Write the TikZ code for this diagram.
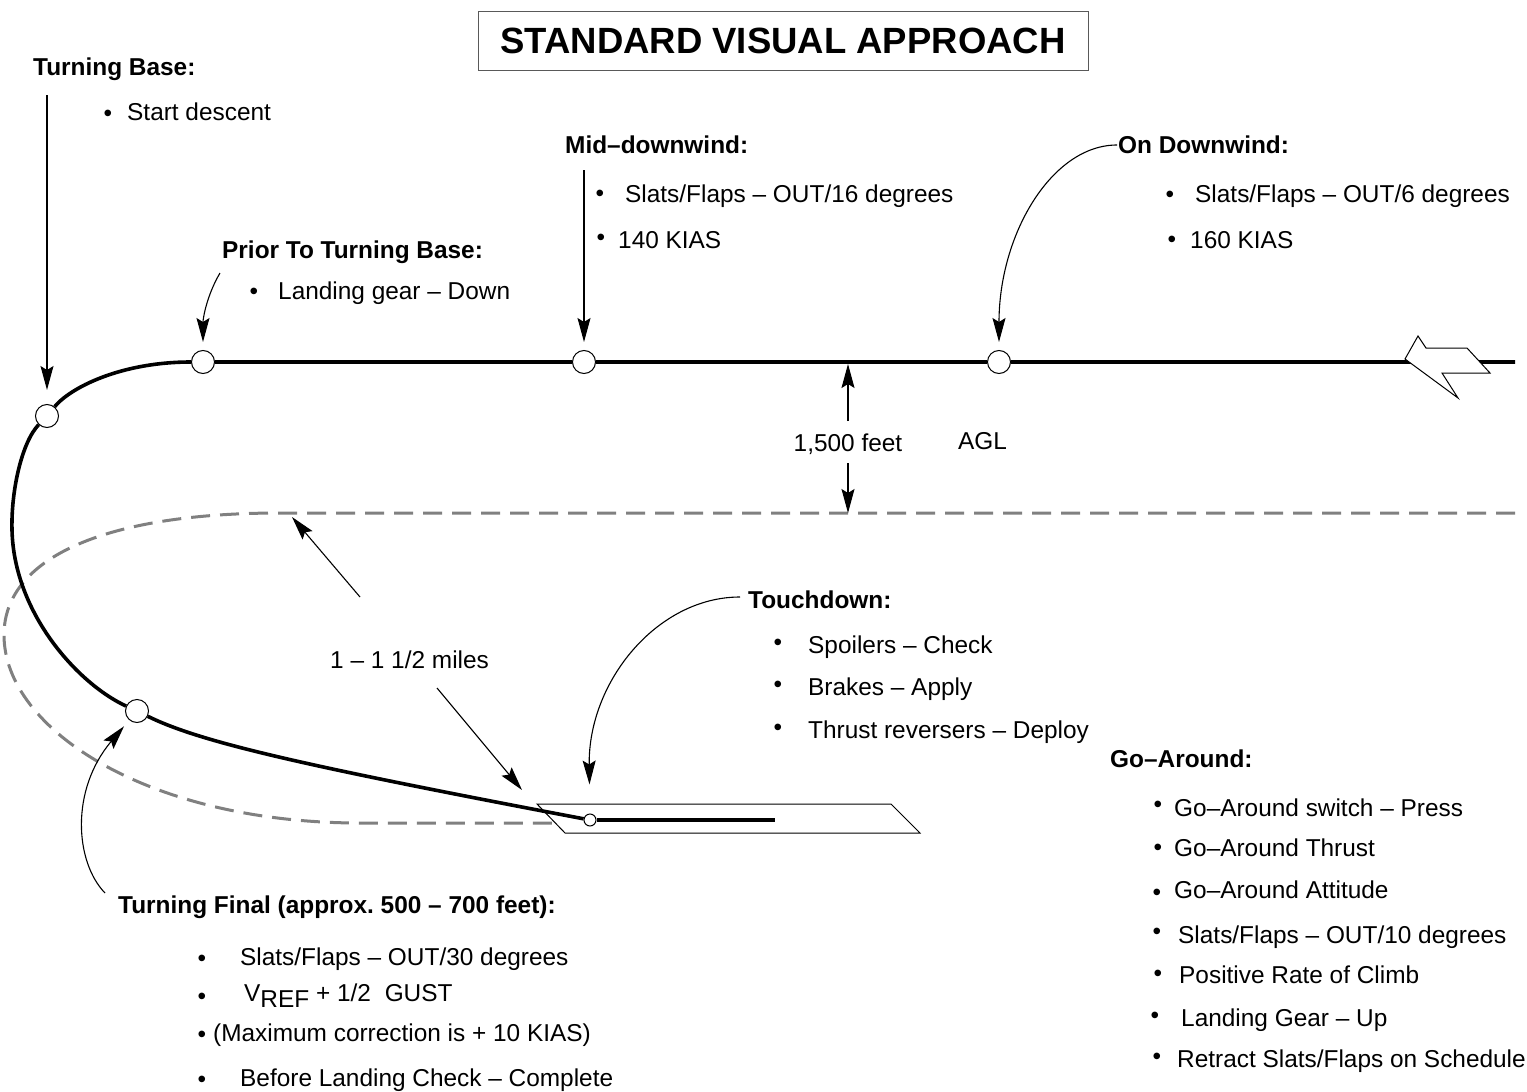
\documentclass[tikz,border=0pt]{standalone}
\usepackage{fontspec}
\setmainfont{Liberation Sans}
\usetikzlibrary{arrows.meta}
\newcommand\bodyfs{\fontsize{24.4}{29}\selectfont}
\frenchspacing
\begin{document}
\begin{tikzpicture}[x=1pt,y=-1pt,
  txt/.style={font=\bodyfs, inner sep=0pt, anchor=base west},
  lbl/.style={font=\bodyfs\bfseries, inner sep=0pt, anchor=base west},
  bul/.style={font=\bodyfs, inner sep=0pt, anchor=base},
  arr/.style={line width=1.1pt, -{Stealth[length=24pt,width=13pt,inset=4pt]}},
  route/.style={line width=3.6pt},
  wp/.style={circle, draw, fill=white, line width=1pt, minimum size=23pt, inner sep=0pt},
  dsh/.style={draw=gray, line width=3pt, dash pattern=on 19pt off 10pt},
  thin/.style={line width=1pt}]
\useasboundingbox (0,0) rectangle (1527,1092);
\fill[white] (0,0) rectangle (1527,1092);

% title
\node[draw=gray!70!black, line width=1pt, minimum width=610pt, minimum height=59pt, inner sep=0pt,
      font=\fontsize{36.5}{40}\selectfont\bfseries] (title) at (783,40.5) {STANDARD VISUAL APPROACH};

% dashed go-around / reference path
\draw[dsh] (1515,513) -- (280,513) .. controls (100,513) and (4,560) .. (4,635)
      .. controls (4,730) and (150,823) .. (360,823) -- (557,823);

% runway
\draw[thin, fill=white] (537,804) -- (891,804) -- (920,833) -- (565,833) -- cycle;

% waypoints
\node[wp] (dw) at (999,362) {};
\node[wp] (md) at (584,362) {};
\node[wp] (ptb) at (203,362) {};
\node[wp] (tb) at (47,416) {};
\node[wp] (tf) at (137,711) {};
\node[wp, minimum size=12pt] (td) at (590,820) {};
\coordinate (E) at (1515,362);
\coordinate (c1) at (12,530);
\coordinate (rwe) at (775,820);

% flight path
\draw[route] (E) -- (dw) -- (md) -- (ptb) .. controls (120,362) and (70,388) .. (tb)
  .. controls (22,442) and (11,490) .. (c1) .. controls (14,615) and (80,685) .. (tf)
  .. controls (200,742) and (300,765) .. (td);
\draw[route] (td) -- (rwe);

% direction arrow symbol
\draw[thin, fill=white] (1405,359) -- (1418,336) -- (1426,348) -- (1467,348) -- (1490,373)
  -- (1442,373) -- (1458,398) -- cycle;

% labels and arrows
\node[lbl] (ltb) at (33,75) {Turning Base:};
\node[bul] (b1) at (108,121) {•};
\node[txt] (t1) at (127,120) {Start descent};
\coordinate (tbs) at (47,95);
\draw[arr, shorten >=14pt] (tbs) -- (tb);

\node[lbl] (lmd) at (565,153) {Mid–downwind:};
\node[bul] (b2) at (600,201) {•};
\node[txt] (t2) at (625,202) {Slats/Flaps – OUT/16 degrees};
\node[bul] (b3) at (601,245) {•};
\node[txt] (t3) at (618,248) {140 KIAS};
\coordinate (mds) at (584,170);
\draw[arr, shorten >=8pt] (mds) -- (md);

\node[lbl] (lptb) at (222,258) {Prior To Turning Base:};
\node[bul] (b4) at (254,299) {•};
\node[txt] (t4) at (278,299) {Landing gear – Down};
\coordinate (pts) at (220,273);
\draw[arr, shorten >=8pt] (pts) .. controls (207,295) and (203,318) .. (ptb);

\node[lbl] (ldw) at (1118,153) {On Downwind:};
\node[bul] (b5) at (1170,202) {•};
\node[txt] (t5) at (1195,202) {Slats/Flaps – OUT/6 degrees};
\node[bul] (b6) at (1172,247) {•};
\node[txt] (t6) at (1190,248) {160 KIAS};
\coordinate (ods) at (1117,145);
\draw[arr, shorten >=8pt] (ods) .. controls (1052,145) and (999,234) .. (dw);

% 1,500 feet
\node[font=\bodyfs, inner sep=0pt, anchor=base] (ft) at (848,451) {1,500 feet};
\node[txt] (agl) at (958,449) {AGL};
\coordinate (f1s) at (848,421);
\coordinate (f1e) at (848,364);
\coordinate (f2s) at (848,463);
\coordinate (f2e) at (848,513);
\draw[arr] (f1s) -- (f1e);
\draw[arr] (f2s) -- (f2e);

% miles
\node[txt] (mi) at (330,668) {1 – 1 1/2 miles};
\coordinate (m1s) at (360,597);
\coordinate (m1e) at (292,517);
\coordinate (m2s) at (437,688);
\coordinate (m2e) at (522,790);
\draw[arr] (m1s) -- (m1e);
\draw[arr] (m2s) -- (m2e);

% touchdown
\node[lbl] (ltd) at (748,608) {Touchdown:};
\node[bul] (b7) at (778,650) {•};
\node[txt] (t7) at (808,653) {Spoilers – Check};
\node[bul] (b8) at (778,692) {•};
\node[txt] (t8) at (808,695) {Brakes – Apply};
\node[bul] (b9) at (778,735) {•};
\node[txt] (t9) at (808,738) {Thrust reversers – Deploy};
\coordinate (tds) at (740,597);
\draw[arr, shorten >=29pt] (tds) .. controls (657,597) and (588,682) .. (td);

% go-around
\node[lbl] (lga) at (1110,767) {Go–Around:};
\node[bul] (g1b) at (1158,812) {•};
\node[txt] (g1) at (1174,816) {Go–Around switch – Press};
\node[bul] (g2b) at (1158,855) {•};
\node[txt] (g2) at (1174,856) {Go–Around Thrust};
\node[bul] (g3b) at (1157,900) {•};
\node[txt] (g3) at (1174,898) {Go–Around Attitude};
\node[bul] (g4b) at (1157,939) {•};
\node[txt] (g4) at (1178,943) {Slats/Flaps – OUT/10 degrees};
\node[bul] (g5b) at (1158,981) {•};
\node[txt] (g5) at (1179,983) {Positive Rate of Climb};
\node[bul] (g6b) at (1155,1023) {•};
\node[txt] (g6) at (1181,1026) {Landing Gear – Up};
\node[bul] (g7b) at (1157,1064) {•};
\node[txt] (g7) at (1177,1067) {Retract Slats/Flaps on Schedule};

% turning final
\node[lbl] (ltf) at (118,913) {Turning Final (approx. 500 – 700 feet):};
\coordinate (tfs) at (105,893);
\draw[arr, shorten >=8pt] (tfs) .. controls (75,862) and (70,790) .. (tf);
\node[bul] (f1b) at (202,966) {•};
\node[txt] (f1) at (240,965) {Slats/Flaps – OUT/30 degrees};
\node[bul] (f2b) at (202,1004) {•};
\node[txt] (f2) at (244,1001) {V\raisebox{-6pt}{REF} + 1/2\hspace{7pt} GUST};
\node[bul] (f3b) at (202,1042) {•};
\node[txt] (f3) at (213,1041) {(Maximum correction is + 10 KIAS)};
\node[bul] (f4b) at (202,1087) {•};
\node[txt] (f4) at (240,1086) {Before Landing Check – Complete};
\end{tikzpicture}
\end{document}
